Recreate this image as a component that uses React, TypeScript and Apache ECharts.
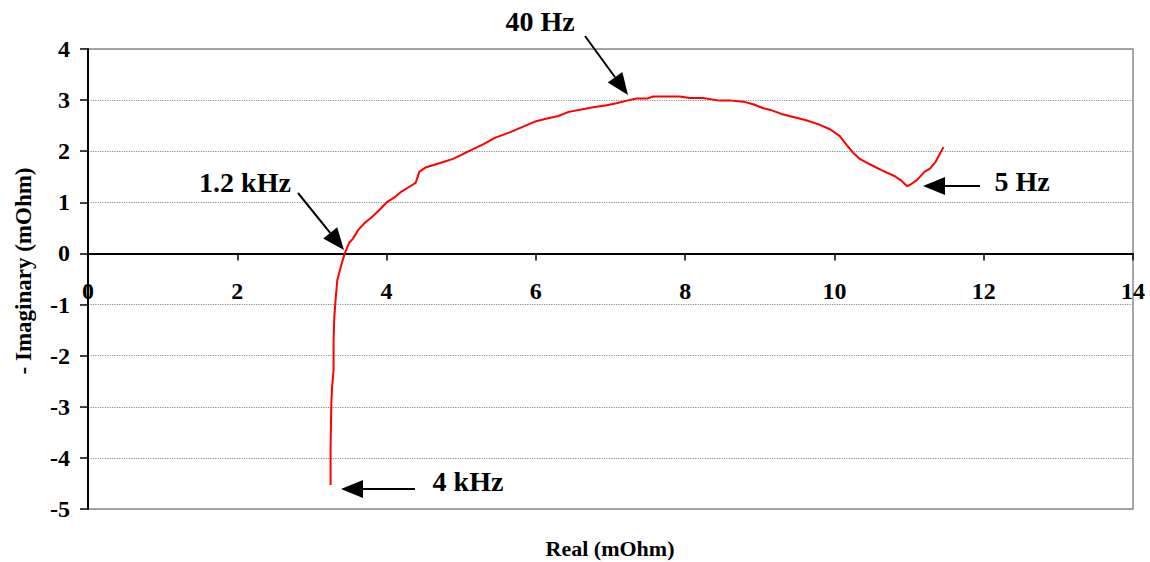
import React, { useEffect, useRef } from "react";
import * as echarts from "echarts";

const realValues = [3.25, 3.25, 3.26, 3.27, 3.29, 3.29, 3.30, 3.32, 3.34, 3.40, 3.44, 3.50, 3.55, 3.62, 3.71, 3.80, 3.91, 4.01, 4.11, 4.20, 4.31, 4.39, 4.41, 4.44, 4.52, 4.63, 4.76, 4.89, 5.03, 5.16, 5.30, 5.45, 5.65, 5.83, 5.99, 6.15, 6.30, 6.44, 6.59, 6.77, 6.95, 7.08, 7.22, 7.35, 7.49, 7.57, 7.93, 8.06, 8.24, 8.46, 8.62, 8.78, 8.91, 9.05, 9.16, 9.29, 9.45, 9.61, 9.78, 9.94, 10.07, 10.16, 10.25, 10.34, 10.48, 10.63, 10.81, 10.90, 10.97, 11.01, 11.10, 11.21, 11.28, 11.35, 11.46];
const imagValues = [-4.53, -3.78, -2.93, -2.61, -2.28, -1.69, -1.24, -0.85, -0.52, -0.19, 0, 0.21, 0.29, 0.46, 0.60, 0.71, 0.86, 1.01, 1.10, 1.21, 1.31, 1.38, 1.47, 1.60, 1.68, 1.73, 1.79, 1.85, 1.95, 2.04, 2.14, 2.26, 2.37, 2.48, 2.58, 2.64, 2.69, 2.77, 2.81, 2.86, 2.90, 2.94, 2.99, 3.03, 3.03, 3.07, 3.07, 3.04, 3.04, 2.99, 2.99, 2.97, 2.92, 2.84, 2.80, 2.73, 2.67, 2.61, 2.53, 2.43, 2.30, 2.13, 1.97, 1.85, 1.74, 1.63, 1.51, 1.42, 1.32, 1.34, 1.43, 1.60, 1.66, 1.78, 2.08];

const annotationLabels = ["40 Hz", "1.2 kHz", "5 Hz", "4 kHz"];
const xTitle = "Real (mOhm)";
const yTitle = "- Imaginary (mOhm)";

const FONT = "'Liberation Serif', 'Times New Roman', serif";

function arrow(x1: number, y1: number, x2: number, y2: number) {
  const dx = x2 - x1;
  const dy = y2 - y1;
  const len = Math.sqrt(dx * dx + dy * dy);
  const ux = dx / len;
  const uy = dy / len;
  const headLen = 22;
  const headHalf = 9;
  const bx = x2 - ux * headLen;
  const by = y2 - uy * headLen;
  const px = -uy;
  const py = ux;
  return [
    {
      type: "line",
      shape: { x1, y1, x2: bx, y2: by },
      style: { stroke: "#000", lineWidth: 2 },
      z: 10,
    },
    {
      type: "polygon",
      shape: {
        points: [
          [x2, y2],
          [bx + px * headHalf, by + py * headHalf],
          [bx - px * headHalf, by - py * headHalf],
        ],
      },
      style: { fill: "#000" },
      z: 10,
    },
  ];
}

function label(text: string, x: number, y: number) {
  return {
    type: "text",
    x,
    y,
    z: 10,
    style: {
      text,
      font: `bold 28px ${FONT}`,
      fill: "#000",
      align: "center",
      verticalAlign: "middle",
    },
  };
}

export default function App() {
  const ref = useRef<HTMLDivElement>(null);
  useEffect(() => {
    if (!ref.current) return;
    const chart = echarts.init(ref.current, null, { renderer: "svg" });
    const data = realValues.map((r, i) => [r, imagValues[i]]);
    const labelStyle = {
      color: "#000",
      fontFamily: FONT,
      fontWeight: "bold",
      fontSize: 24,
    };
    chart.setOption({
      animation: false,
      backgroundColor: "#fff",
      grid: {
        left: 88,
        right: 17,
        top: 49,
        bottom: 53,
        show: true,
        borderColor: "#8c8c8c",
        borderWidth: 1.5,
        backgroundColor: "transparent",
      },
      xAxis: [
        {
          type: "value",
          min: 0,
          max: 14,
          interval: 2,
          axisLine: { show: true, onZero: true, lineStyle: { color: "#000", width: 2 } },
          axisTick: { show: true, inside: false, length: 7, lineStyle: { color: "#000", width: 1.5 } },
          axisLabel: { show: false },
          splitLine: { show: false },
        },
        {
          type: "value",
          position: "bottom",
          offset: -255,
          min: 0,
          max: 14,
          interval: 2,
          axisLine: { show: false, onZero: false },
          axisTick: { show: false },
          axisLabel: {
            show: true,
            showMinLabel: true,
            showMaxLabel: true,
            margin: 25,
            ...labelStyle,
          },
          splitLine: { show: false },
        },
      ],
      yAxis: {
        type: "value",
        min: -5,
        max: 4,
        interval: 1,
        axisLine: { show: true, onZero: false, lineStyle: { color: "#000", width: 2 } },
        axisTick: { show: true, inside: false, length: 8, lineStyle: { color: "#000", width: 1.5 } },
        axisLabel: {
          show: true,
          showMinLabel: true,
          showMaxLabel: true,
          margin: 18,
          ...labelStyle,
        },
        splitLine: { show: true, lineStyle: { color: "#8c8c8c", type: "dotted", width: 1.2 } },
      },
      series: [
        {
          type: "line",
          xAxisIndex: 0,
          data,
          showSymbol: false,
          symbol: "none",
          smooth: false,
          lineStyle: { color: "#ff0000", width: 2 },
          z: 5,
        },
      ],
      graphic: [
        ...arrow(585, 36, 628, 95),
        ...arrow(298, 193, 344, 250),
        ...arrow(980, 186, 923, 186),
        ...arrow(415, 489, 341, 489),
        label(annotationLabels[0], 540, 21),
        label(annotationLabels[1], 245, 182),
        label(annotationLabels[2], 1022, 181),
        label(annotationLabels[3], 468, 481),
        {
          type: "text",
          x: 610,
          y: 548,
          style: {
            text: xTitle,
            font: `bold 22px ${FONT}`,
            fill: "#000",
            align: "center",
            verticalAlign: "middle",
          },
        },
        {
          type: "text",
          x: 23,
          y: 271,
          rotation: Math.PI / 2,
          style: {
            text: yTitle,
            font: `bold 23px ${FONT}`,
            fill: "#000",
            align: "center",
            verticalAlign: "middle",
          },
        },
      ],
    });
    return () => chart.dispose();
  }, []);
  return (
    <div
      ref={ref}
      style={{ position: "fixed", left: 0, top: 0, width: 1150, height: 562 }}
    />
  );
}
